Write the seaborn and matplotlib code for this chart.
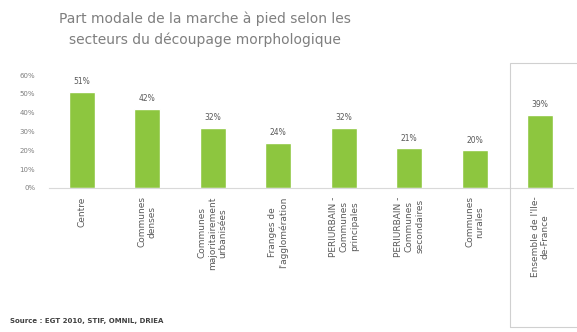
import pandas as pd
import seaborn as sns
import matplotlib.pyplot as plt
from matplotlib.patches import Rectangle
import matplotlib.transforms as mtransforms

# data
secteurs = [
    "Centre",
    "Communes\ndenses",
    "Communes\nmajoritairement\nurbanisées",
    "Franges de\nl'agglomération",
    "PERIURBAIN -\nCommunes\nprincipales",
    "PERIURBAIN -\nCommunes\nsecondaires",
    "Communes\nrurales",
    "Ensemble de l'Ile-\nde-France",
]
part_modale = [0.51, 0.42, 0.32, 0.24, 0.32, 0.21, 0.20, 0.39]
yticks = [0.0, 0.1, 0.2, 0.3, 0.4, 0.5, 0.6]

GREEN = "#8DC63F"
GREY = "#7f7f7f"


def main():
    df = pd.DataFrame({"secteur": secteurs, "part": part_modale})

    sns.set_theme(style="white")
    plt.rcParams['font.family'] = ['DejaVu Sans']

    fig = plt.figure(figsize=(5.77, 3.32), dpi=100)
    ax = fig.add_axes([0.085, 0.434, 0.908, 0.34])

    sns.barplot(data=df, x="secteur", y="part", color=GREEN, width=0.4,
                saturation=1, ax=ax)

    # value labels
    for i, v in enumerate(part_modale):
        ax.text(i, v + 0.03, f"{v * 100:.0f}%", ha="center", va="bottom",
                fontsize=5.5, color="#595959")

    ax.set_ylim(0, 0.6)
    ax.set_xlim(-0.5, len(secteurs) - 0.5)
    ax.set_yticks(yticks)
    ax.set_yticklabels([f"{t * 100:.0f}%" for t in yticks], fontsize=5, color=GREY)
    ax.tick_params(axis="y", length=0, pad=10)
    ax.tick_params(axis="x", length=0, pad=6)
    ax.set_xticks(range(len(secteurs)))
    ax.set_xticklabels(secteurs, rotation=90, ha="center", va="top",
                       fontsize=6.5, color="#595959", multialignment="center")
    ax.set_xlabel("")
    ax.set_ylabel("")
    for s in ["top", "right", "left"]:
        ax.spines[s].set_visible(False)
    ax.spines["bottom"].set_color("#d9d9d9")
    ax.spines["bottom"].set_linewidth(0.8)

    # frame around the Ile-de-France bar
    trans = mtransforms.blended_transform_factory(ax.transData, fig.transFigure)
    frame = Rectangle((6.54, 0.015), 1.2, 0.795, transform=trans, fill=False,
                      edgecolor="#d0d0d0", linewidth=0.8, clip_on=False)
    fig.patches.append(frame)

    fig.text(0.355, 0.945, "Part modale de la marche à pied selon les",
             ha="center", va="center", fontsize=10, color=GREY)
    fig.text(0.355, 0.88, "secteurs du découpage morphologique",
             ha="center", va="center", fontsize=10, color=GREY)

    fig.text(0.018, 0.033, "Source : EGT 2010, STIF, OMNIL, DRIEA",
             ha="left", va="center", fontsize=5, color="#404040", fontweight="bold")

    fig.savefig("out.png", dpi=100)


if __name__ == "__main__":
    main()
